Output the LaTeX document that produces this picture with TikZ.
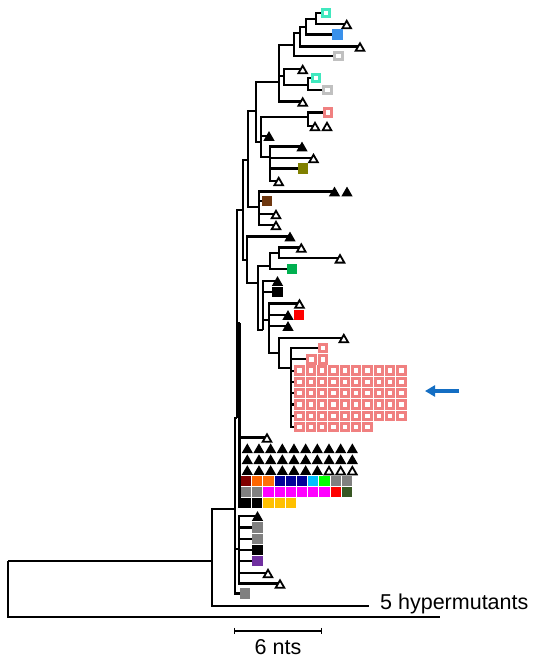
\documentclass[tikz,border=0pt]{standalone}
\usepackage{fontspec}
\setmainfont{Liberation Sans}
\usetikzlibrary{shapes.geometric,arrows.meta}
\definecolor{cAqua}{RGB}{64,232,190}
\definecolor{cBlue}{RGB}{58,145,235}
\definecolor{cLgray}{RGB}{192,192,192}
\definecolor{cPink}{RGB}{240,128,128}
\definecolor{cOlive}{RGB}{128,128,0}
\definecolor{cBrown}{RGB}{110,55,15}
\definecolor{cGreen}{RGB}{0,176,80}
\definecolor{cRed}{RGB}{255,0,0}
\definecolor{cPurple}{RGB}{112,48,160}
\definecolor{cGray}{RGB}{128,128,128}
\definecolor{cDred}{RGB}{128,0,0}
\definecolor{cOrange}{RGB}{255,102,0}
\definecolor{cOrangeB}{RGB}{255,112,10}
\definecolor{cNavy}{RGB}{0,0,153}
\definecolor{cSky}{RGB}{0,191,255}
\definecolor{cLime}{RGB}{0,255,0}
\definecolor{cMag}{RGB}{255,0,255}
\definecolor{cDgreen}{RGB}{56,87,35}
\definecolor{cGold}{RGB}{255,192,0}
\definecolor{cArrow}{RGB}{20,110,195}
\tikzset{
  branch/.style={draw=black, line width=2.1pt},
  fsq/.style={rectangle, minimum size=10.2pt, inner sep=0pt, fill=#1},
  hsq/.style={rectangle, minimum size=7.4pt, inner sep=0pt, draw=#1, line width=3pt, fill=white},
  tri/.style={regular polygon, regular polygon sides=3, minimum size=13pt, inner sep=0pt, fill=black, yshift=-1.6pt},
  otri/.style={regular polygon, regular polygon sides=3, minimum size=10pt, inner sep=0pt, draw=black, line width=1.8pt, fill=white, yshift=-1.8pt},
  lbl/.style={inner sep=0pt, font=\fontsize{21.5}{25}\selectfont}
}
\begin{document}
\begin{tikzpicture}[x=1pt,y=-1pt]
\fill[white] (0,0) rectangle (533,658);
\useasboundingbox (0,0) rectangle (533,658);
% internal nodes
\coordinate (root) at (8,561);
\coordinate (A) at (212,561);
\coordinate (B) at (235,509);
\coordinate (C) at (239,549);
\coordinate (n15) at (237,418);
\coordinate (D) at (239.5,323);
\coordinate (Dend) at (239.5,508);
\coordinate (n14) at (243,210);
\coordinate (n12) at (248,160);
\coordinate (n8) at (256,111);
\coordinate (n5) at (279,82);
\coordinate (n4) at (294,45);
\coordinate (n3) at (300,33);
\coordinate (n2) at (306,27);
\coordinate (n1) at (316,19);
\coordinate (n6) at (284,76);
\coordinate (n7) at (308,85);
\coordinate (n9) at (261,142);
\coordinate (n10) at (308,117);
\coordinate (n11) at (270,157);
\coordinate (n13) at (259,207);
\coordinate (n16) at (247,260);
\coordinate (n17) at (258,283);
\coordinate (n18) at (270,266);
\coordinate (n20) at (279,253);
\coordinate (n19) at (263,330);
\coordinate (n21) at (269,320);
\coordinate (n22) at (279,353);
\coordinate (P) at (291,368);
% leaves
\coordinate (outEnd) at (440,617);
\coordinate (hypEnd) at (369,606);
\coordinate (L1) at (325.7,13);
\coordinate (L2) at (346.7,24);
\coordinate (L3) at (337.5,34.5);
\coordinate (L4) at (360,46.5);
\coordinate (L5) at (338.3,56.3);
\coordinate (L6) at (302.7,69);
\coordinate (L7) at (316,78);
\coordinate (L8) at (327.5,90.3);
\coordinate (L9) at (302.7,101.5);
\coordinate (L10) at (328,112.5);
\coordinate (L11) at (315,126);
\coordinate (L13) at (269,136);
\coordinate (L14) at (302,146.5);
\coordinate (L15) at (313.5,158);
\coordinate (L16) at (303,168.5);
\coordinate (L17) at (278.7,181);
\coordinate (L18) at (334.5,191.5);
\coordinate (L19) at (267,201);
\coordinate (L20) at (276,214);
\coordinate (L21) at (276,225);
\coordinate (L22) at (290,236.5);
\coordinate (L23) at (301.3,247.5);
\coordinate (L24) at (340,258.3);
\coordinate (L25) at (292,269);
\coordinate (L26) at (277.5,281);
\coordinate (L27) at (277.5,291.7);
\coordinate (L28) at (299.5,303.5);
\coordinate (L29) at (288,315);
\coordinate (L30) at (288,326);
\coordinate (L31) at (343.8,338);
\coordinate (L32) at (323,348);
\coordinate (L33) at (311.6,359.3);
\coordinate (L34) at (267,437.5);
\coordinate (c1) at (257.5,516);
\coordinate (c2) at (257.5,527.5);
\coordinate (c3) at (257.5,538.7);
\coordinate (c4) at (257.5,550);
\coordinate (c5) at (257.5,561);
\coordinate (c6) at (268,573);
\coordinate (c7) at (280,583.5);
\coordinate (gsq) at (245.3,593.5);
% branches
\draw[branch] (root) |- (A);
\draw[branch] (root) |- (outEnd);
\draw[branch] (A) |- (B);
\draw[branch] (A) |- (hypEnd);
\draw[branch] (B) |- (n15);
\draw[branch] (B) |- (C);
\draw[branch] (B) |- (gsq);
\foreach \c in {c1,c2,c3,c4,c5,c6,c7} \draw[branch] (C) |- (\c);
\draw[branch] (n15) |- (n14);
\draw[branch] (n15) |- (D);
\draw[branch] (D) |- (L34);
\draw[branch] (D) -- (Dend);
\draw[branch] (n14) |- (n12);
\draw[branch] (n14) |- (n16);
\draw[branch] (n12) |- (n8);
\draw[branch] (n12) |- (n13);
\draw[branch] (n8) |- (n5);
\draw[branch] (n8) |- (n9);
\draw[branch] (n5) |- (n4);
\draw[branch] (n5) |- (n6);
\draw[branch] (n5) |- (L9);
\draw[branch] (n4) |- (n3);
\draw[branch] (n4) |- (L5);
\draw[branch] (n3) |- (n2);
\draw[branch] (n3) |- (L4);
\draw[branch] (n2) |- (n1);
\draw[branch] (n2) |- (L3);
\draw[branch] (n1) |- (L1);
\draw[branch] (n1) |- (L2);
\draw[branch] (n6) |- (L6);
\draw[branch] (n6) |- (n7);
\draw[branch] (n7) |- (L7);
\draw[branch] (n7) |- (L8);
\draw[branch] (n9) |- (n10);
\draw[branch] (n9) |- (L13);
\draw[branch] (n9) |- (n11);
\draw[branch] (n10) |- (L10);
\draw[branch] (n10) |- (L11);
\foreach \c in {L14,L15,L16,L17} \draw[branch] (n11) |- (\c);
\foreach \c in {L18,L19,L20,L21} \draw[branch] (n13) |- (\c);
\draw[branch] (n16) |- (L22);
\draw[branch] (n16) |- (n17);
\draw[branch] (n17) |- (n18);
\draw[branch] (n17) |- (n19);
\draw[branch] (n18) |- (n20);
\draw[branch] (n18) |- (L25);
\draw[branch] (n20) |- (L23);
\draw[branch] (n20) |- (L24);
\draw[branch] (n19) |- (L26);
\draw[branch] (n19) |- (L27);
\draw[branch] (n19) |- (n21);
\foreach \c in {L28,L29,L30} \draw[branch] (n21) |- (\c);
\draw[branch] (n21) |- (n22);
\draw[branch] (n22) |- (L31);
\draw[branch] (n22) |- (P);
\draw[branch] (P) |- (L32);
\draw[branch] (P) |- (L33);
\foreach \r in {0,...,5} {
  \coordinate (prow\r) at (294.5,{370.6+11.3*\r});
  \draw[branch] (P) |- (prow\r);
}
% leaf symbols
\node[hsq=cAqua] (sL1) at (L1) {};
\node[otri] (sL2) at (L2) {};
\node[fsq=cBlue] (sL3) at (L3) {};
\node[otri] (sL4) at (L4) {};
\node[hsq=cLgray] (sL5) at (L5) {};
\node[otri] (sL6) at (L6) {};
\node[hsq=cAqua] (sL7) at (L7) {};
\node[hsq=cLgray] (sL8) at (L8) {};
\node[otri] (sL9) at (L9) {};
\node[hsq=cPink] (sL10) at (L10) {};
\node[otri] (sL11) at (L11) {};
\node[otri] (sL12) at (327,126) {};
\node[tri] (sL13) at (L13) {};
\node[tri] (sL14) at (L14) {};
\node[otri] (sL15) at (L15) {};
\node[fsq=cOlive] (sL16) at (L16) {};
\node[otri] (sL17) at (L17) {};
\node[tri] (sL18) at (L18) {};
\node[tri] (sL18b) at (347,191.5) {};
\node[fsq=cBrown] (sL19) at (L19) {};
\node[otri] (sL20) at (L20) {};
\node[otri] (sL21) at (L21) {};
\node[tri] (sL22) at (L22) {};
\node[otri] (sL23) at (L23) {};
\node[otri] (sL24) at (L24) {};
\node[fsq=cGreen] (sL25) at (L25) {};
\node[tri] (sL26) at (L26) {};
\node[fsq=black] (sL27) at (L27) {};
\node[otri] (sL28) at (L28) {};
\node[tri] (sL29) at (L29) {};
\node[fsq=cRed] (sL29b) at (299,314.7) {};
\node[tri] (sL30) at (L30) {};
\node[otri] (sL31) at (L31) {};
\node[hsq=cPink] (sL32) at (L32) {};
\node[hsq=cPink] (sL33) at (L33) {};
\node[hsq=cPink] (sL33b) at (322.9,359.3) {};
\foreach \r in {0,...,4} \foreach \c in {0,...,9}
  \node[hsq=cPink] (pk-\r-\c) at ({299.6+11.3*\c},{370.6+11.3*\r}) {};
\foreach \c in {0,...,6}
  \node[hsq=cPink] (pk-5-\c) at ({299.6+11.3*\c},427.1) {};
\node[otri] (sL34) at (L34) {};
% triangle / square grid
\foreach \r/\yy in {0/448.3,1/459.2} \foreach \c in {0,...,9}
  \node[tri] (tg-\r-\c) at ({247.3+11.67*\c},\yy) {};
\foreach \c in {0,...,6}
  \node[tri] (tg-2-\c) at ({247.3+11.67*\c},470.1) {};
\foreach \c in {7,8,9}
  \node[otri] (tg-2-\c) at ({247.3+11.67*\c},470.1) {};
\foreach \c/\col in {0/cDred,1/cOrange,2/cOrangeB,3/cNavy,4/cNavy,5/cNavy,6/cSky,7/cLime,8/cGray,9/cGray}
  \node[fsq=\col] (sg-0-\c) at ({246+11.2*\c},481) {};
\foreach \c/\col in {0/cGray,1/cGray,2/cMag,3/cMag,4/cMag,5/cMag,6/cMag,7/cMag,8/cRed,9/cDgreen}
  \node[fsq=\col] (sg-1-\c) at ({246+11.2*\c},492) {};
\foreach \c/\col in {0/black,1/black,2/cGold,3/cGold,4/cGold}
  \node[fsq=\col] (sg-2-\c) at ({246+11.2*\c},503) {};
% lower clade
\node[tri] (sc1) at (c1) {};
\node[fsq=cGray] (sc2) at (c2) {};
\node[fsq=cGray] (sc3) at (c3) {};
\node[fsq=black] (sc4) at (c4) {};
\node[fsq=cPurple] (sc5) at (c5) {};
\node[otri] (sc6) at (c6) {};
\node[otri] (sc7) at (c7) {};
\node[fsq=cGray] (sgsq) at (gsq) {};
% labels
\node[lbl, anchor=base west] (hyp) at (380,609) {5 hypermutants};
\coordinate (sbL) at (234.5,631);
\coordinate (sbR) at (321.5,631);
\draw[branch] (sbL) -- (sbR);
\draw[line width=1.6pt] ([yshift=3.2pt]sbL) -- ([yshift=-3.2pt]sbL);
\draw[line width=1.6pt] ([yshift=3.2pt]sbR) -- ([yshift=-3.2pt]sbR);
\node[lbl, anchor=base] (nts) at (278,654) {6 nts};
% arrow
\coordinate (arrS) at (459,391);
\coordinate (arrE) at (425,391);
\draw[cArrow, line width=3.4pt, -{Triangle[length=10pt,width=11pt]}] (arrS) -- (arrE);
\end{tikzpicture}
\end{document}
